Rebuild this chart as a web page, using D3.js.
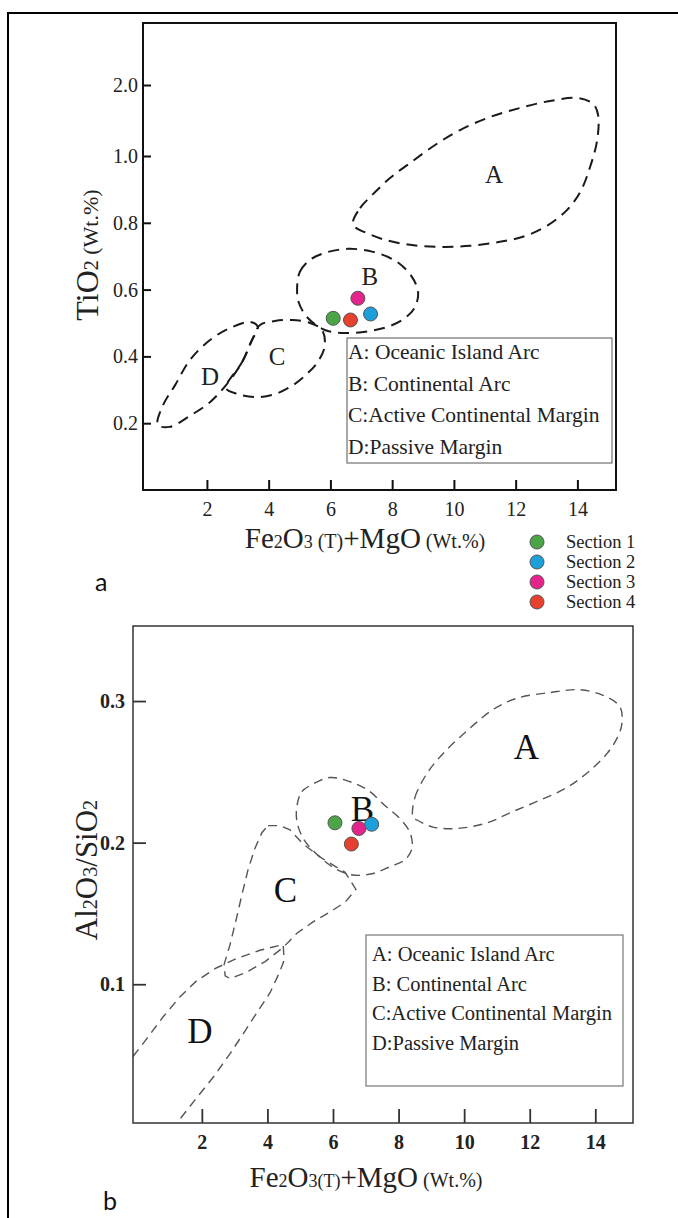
<!DOCTYPE html>
<html>
<head>
<meta charset="utf-8">
<script src="https://cdn.jsdelivr.net/npm/d3@7"></script>
<style>
  body { margin: 0; background: #fff; }
  svg { display: block; font-family: "Liberation Serif", "Times New Roman", serif; }
</style>
</head>
<body>
<svg id="fig" width="678" height="1218"></svg>
<script>
// ---- shared ----
const sectionNames = ['Section 1', 'Section 2', 'Section 3', 'Section 4'];
const sectionColors = ['#4ba547', '#1c9fdb', '#e4238b', '#e6402f'];
const drawOrder = [0, 2, 3, 1]; // blue sits on top of pink in panel b
const fieldNames = ['A: Oceanic Island Arc', 'B: Continental Arc', 'C:Active Continental Margin', 'D:Passive Margin'];
const fieldLetters = ['A', 'B', 'C', 'D'];

// ---- panel a: TiO2 vs Fe2O3(T)+MgO ----
const aSampleX = [6.09, 7.30, 6.89, 6.65];
const aSampleY = [0.514, 0.527, 0.574, 0.509];
const aXTicks = [2, 4, 6, 8, 10, 12, 14];
const aYTicks = [0.2, 0.4, 0.6, 0.8, 1.0, 2.0];
const aFieldA = [[6.73,0.802],[6.96,0.844],[7.35,0.883],[7.93,0.934],[8.58,0.979],[9.39,1.155],[10.20,1.366],[11.17,1.549],[12.14,1.676],[13.11,1.775],[13.99,1.817],[14.51,1.732],[14.67,1.577],[14.64,1.225],[14.41,0.967],[14.09,0.892],[13.66,0.838],[13.05,0.793],[12.30,0.760],[11.49,0.743],[10.52,0.731],[9.55,0.728],[8.58,0.734],[7.77,0.749],[7.19,0.769],[6.80,0.787]];
const aFieldB = [[4.92,0.599],[5.01,0.653],[5.34,0.689],[5.82,0.710],[6.57,0.722],[7.38,0.713],[8.16,0.683],[8.64,0.638],[8.84,0.593],[8.74,0.548],[8.42,0.515],[7.93,0.491],[7.28,0.476],[6.47,0.470],[5.82,0.479],[5.27,0.515],[4.98,0.560]];
const aFieldC = [[2.62,0.305],[3.14,0.383],[3.46,0.449],[3.72,0.494],[4.20,0.506],[4.76,0.509],[5.34,0.500],[5.73,0.479],[5.82,0.434],[5.63,0.389],[5.27,0.350],[4.79,0.314],[4.20,0.287],[3.56,0.278],[3.01,0.287]];
const aFieldD = [[0.41,0.195],[0.58,0.254],[0.97,0.314],[1.45,0.389],[2.10,0.449],[2.75,0.485],[3.40,0.503],[3.65,0.488],[3.46,0.449],[3.14,0.383],[2.62,0.314],[2.10,0.263],[1.45,0.222],[0.80,0.189]];
const aLabelPos = [[11.3,0.945],[7.28,0.641],[4.27,0.401],[2.1,0.341]];

// ---- panel b: Al2O3/SiO2 vs Fe2O3(T)+MgO ----
const bSampleX = [6.06, 7.18, 6.79, 6.56];
const bSampleY = [0.214, 0.213, 0.210, 0.199];
const bXTicks = [2, 4, 6, 8, 10, 12, 14];
const bYTicks = [0.1, 0.2, 0.3];
const bFieldA = [[8.44,0.218],[8.50,0.232],[8.87,0.249],[9.36,0.263],[10.09,0.279],[10.88,0.294],[11.61,0.302],[12.62,0.306],[13.53,0.308],[14.24,0.304],[14.75,0.296],[14.81,0.284],[14.69,0.275],[14.36,0.263],[13.84,0.251],[13.14,0.239],[12.31,0.230],[11.49,0.222],[10.70,0.214],[9.78,0.210],[9.05,0.211],[8.56,0.216]];
const bFieldB = [[4.90,0.226],[5.05,0.236],[5.36,0.241],[5.91,0.246],[6.52,0.243],[7.07,0.237],[7.59,0.226],[8.04,0.217],[8.35,0.207],[8.41,0.196],[8.20,0.188],[7.74,0.183],[7.19,0.178],[6.67,0.177],[6.31,0.179],[5.91,0.184],[5.45,0.193],[5.09,0.203],[4.90,0.215]];
const bFieldC = [[4.02,0.212],[4.38,0.212],[4.69,0.209],[5.09,0.199],[5.66,0.189],[6.37,0.179],[6.70,0.167],[6.37,0.158],[5.91,0.151],[5.39,0.144],[4.90,0.136],[4.48,0.126],[3.93,0.116],[3.32,0.108],[2.86,0.104],[2.71,0.106],[2.68,0.114],[2.86,0.128],[3.04,0.145],[3.22,0.163],[3.41,0.181],[3.62,0.196],[3.83,0.207]];
const bFieldD = [[-0.1,0.049],[0.27,0.060],[0.82,0.077],[1.33,0.091],[1.82,0.102],[2.40,0.111],[3.04,0.118],[3.77,0.124],[4.48,0.128],[4.51,0.117],[4.38,0.109],[4.08,0.094],[3.68,0.080],[3.29,0.066],[2.86,0.051],[2.37,0.035],[1.85,0.020],[1.27,0.003]];
const bLabelPos = [[11.9,0.268],[6.9,0.224],[4.55,0.167],[1.94,0.067]];

const svg = d3.select('#fig');

// outer frame (runs off the page on the right and bottom)
svg.append('rect')
  .attr('x', 8).attr('y', 13).attr('width', 720).attr('height', 1260)
  .attr('fill', 'none').attr('stroke', '#000').attr('stroke-width', 2);

function titleText(g, parts) {
  const t = g.append('text').attr('text-anchor', 'middle').attr('fill', '#222');
  parts.forEach(p => t.append('tspan').attr('font-size', p[1]).text(p[0]));
  return t;
}

// ================= panel a =================
{
  const L = 143, R = 616, T = 23, B = 490;
  const x = d3.scaleLinear().domain([-0.07, 15.25]).range([L, R]);
  const y = d3.scaleLinear().domain([0, 1, 2]).range([B, 156, 85]); // broken axis above 1.0
  const g = svg.append('g');

  const line = d3.line().x(d => x(d[0])).y(d => y(d[1])).curve(d3.curveCatmullRomClosed.alpha(0.5));
  g.selectAll('path.field')
    .data([aFieldA, aFieldB, aFieldC, aFieldD])
    .join('path').attr('class', 'field')
    .attr('d', line)
    .attr('fill', 'none').attr('stroke', '#1a1a1a').attr('stroke-width', 2)
    .attr('stroke-dasharray', '11,7');

  g.selectAll('text.flab')
    .data(fieldLetters)
    .join('text').attr('class', 'flab')
    .attr('x', (d, i) => x(aLabelPos[i][0])).attr('y', (d, i) => y(aLabelPos[i][1]))
    .attr('text-anchor', 'middle').attr('dy', '0.35em')
    .attr('font-size', 25).attr('fill', '#222').text(d => d);

  const xAxis = g.append('g').attr('transform', `translate(0,${B})`)
    .call(d3.axisBottom(x).tickValues(aXTicks).tickSize(-10).tickPadding(12).tickFormat(d3.format('d')));
  const yAxis = g.append('g').attr('transform', `translate(${L},0)`)
    .call(d3.axisLeft(y).tickValues(aYTicks).tickSize(-8).tickPadding(5).tickFormat(d3.format('.1f')));
  [xAxis, yAxis].forEach(a => {
    a.select('.domain').remove();
    a.selectAll('line').attr('stroke', '#111').attr('stroke-width', 2);
    a.selectAll('text').attr('font-family', '"Liberation Serif", serif').attr('font-size', 20).attr('fill', '#222');
  });

  g.append('rect').attr('x', L).attr('y', T).attr('width', R - L).attr('height', B - T)
    .attr('fill', 'none').attr('stroke', '#111').attr('stroke-width', 2);

  // samples
  g.selectAll('circle.s')
    .data(drawOrder)
    .join('circle').attr('class', 's')
    .attr('cx', i => x(aSampleX[i])).attr('cy', i => y(aSampleY[i])).attr('r', 7)
    .attr('fill', i => sectionColors[i]).attr('stroke', '#555').attr('stroke-width', 1);

  // field legend box
  g.append('rect').attr('x', 347).attr('y', 338).attr('width', 265).attr('height', 125)
    .attr('fill', '#fff').attr('stroke', '#555').attr('stroke-width', 1);
  g.selectAll('text.fl')
    .data(fieldNames)
    .join('text').attr('class', 'fl')
    .attr('x', 348).attr('y', (d, i) => 359 + i * 31.7)
    .attr('font-size', 21.5).attr('fill', '#222').text(d => d);

  // axis titles
  titleText(g.append('g').attr('transform', 'translate(365,548)'),
    [['Fe', 29], ['2', 18], ['O', 29], ['3', 18], [' (T)', 20], ['+MgO', 29], [' (Wt.%)', 20]]);
  titleText(g.append('g').attr('transform', 'translate(98,255) rotate(-90)'),
    [['TiO', 32], ['2', 20], [' (Wt.%)', 22]]);

  // section legend
  const lg = g.append('g');
  lg.selectAll('circle')
    .data(sectionNames)
    .join('circle')
    .attr('cx', 537).attr('cy', (d, i) => 542 + i * 20).attr('r', 7)
    .attr('fill', (d, i) => sectionColors[i]).attr('stroke', '#555').attr('stroke-width', 1);
  lg.selectAll('text')
    .data(sectionNames)
    .join('text')
    .attr('x', 566).attr('y', (d, i) => 548 + i * 20)
    .attr('font-size', 18.5).attr('fill', '#222').text(d => d);

  svg.append('text').attr('x', 95).attr('y', 591)
    .attr('font-family', 'Lato, "Open Sans", sans-serif').attr('font-size', 25).attr('fill', '#111').text('a');
}

// ================= panel b =================
{
  const L = 133, R = 633, T = 626, B = 1123;
  const x = d3.scaleLinear().domain([-0.1, 15.15]).range([L, R]);
  const y = d3.scaleLinear().domain([0.002, 0.353]).range([B, T]);
  const g = svg.append('g');

  g.append('clipPath').attr('id', 'clipb')
    .append('rect').attr('x', L).attr('y', T).attr('width', R - L).attr('height', B - T);

  const smooth = d3.line().x(d => x(d[0])).y(d => y(d[1])).curve(d3.curveCatmullRomClosed.alpha(0.5));
  const poly = d3.line().x(d => x(d[0])).y(d => y(d[1])).curve(d3.curveLinearClosed);
  const open = d3.line().x(d => x(d[0])).y(d => y(d[1])).curve(d3.curveLinear);
  const fields = [[bFieldA, smooth], [bFieldB, smooth], [bFieldC, poly], [bFieldD, open]];
  g.append('g').attr('clip-path', 'url(#clipb)')
    .selectAll('path')
    .data(fields)
    .join('path')
    .attr('d', d => d[1](d[0]))
    .attr('fill', 'none').attr('stroke', '#555').attr('stroke-width', 1.4)
    .attr('stroke-dasharray', '9,6');

  g.selectAll('text.flab')
    .data(fieldLetters)
    .join('text').attr('class', 'flab')
    .attr('x', (d, i) => x(bLabelPos[i][0])).attr('y', (d, i) => y(bLabelPos[i][1]))
    .attr('text-anchor', 'middle').attr('dy', '0.35em')
    .attr('font-size', 35).attr('fill', '#111').text(d => d);

  const xAxis = g.append('g').attr('transform', `translate(0,${B})`)
    .call(d3.axisBottom(x).tickValues(bXTicks).tickSize(-14).tickPadding(12).tickFormat(d3.format('d')));
  const yAxis = g.append('g').attr('transform', `translate(${L},0)`)
    .call(d3.axisLeft(y).tickValues(bYTicks).tickSize(-13).tickPadding(8).tickFormat(d3.format('.1f')));
  [xAxis, yAxis].forEach(a => {
    a.select('.domain').remove();
    a.selectAll('line').attr('stroke', '#333').attr('stroke-width', 1.8);
    a.selectAll('text').attr('font-family', '"Liberation Serif", serif').attr('font-weight', 'bold')
      .attr('font-size', 20).attr('fill', '#222');
  });

  g.append('rect').attr('x', L).attr('y', T).attr('width', R - L).attr('height', B - T)
    .attr('fill', 'none').attr('stroke', '#333').attr('stroke-width', 1.5);

  g.selectAll('circle.s')
    .data(drawOrder)
    .join('circle').attr('class', 's')
    .attr('cx', i => x(bSampleX[i])).attr('cy', i => y(bSampleY[i])).attr('r', 7)
    .attr('fill', i => sectionColors[i]).attr('stroke', '#555').attr('stroke-width', 1);

  g.append('rect').attr('x', 366).attr('y', 935).attr('width', 257).attr('height', 151)
    .attr('fill', '#fff').attr('stroke', '#777').attr('stroke-width', 1.2);
  g.selectAll('text.fl')
    .data(fieldNames)
    .join('text').attr('class', 'fl')
    .attr('x', 372).attr('y', (d, i) => 961 + i * 29.6)
    .attr('font-size', 20.5).attr('fill', '#222').text(d => d);

  titleText(g.append('g').attr('transform', 'translate(366,1187)'),
    [['Fe', 29], ['2', 18], ['O', 29], ['3(T)', 18], ['+MgO', 29], [' (Wt.%)', 20]]);
  titleText(g.append('g').attr('transform', 'translate(97,870) rotate(-90)'),
    [['Al', 31], ['2', 20], ['O', 31], ['3', 20], ['/SiO', 31], ['2', 20]]);

  svg.append('text').attr('x', 103).attr('y', 1210)
    .attr('font-family', 'Lato, "Open Sans", sans-serif').attr('font-size', 25).attr('fill', '#111').text('b');
}
</script>
</body>
</html>
